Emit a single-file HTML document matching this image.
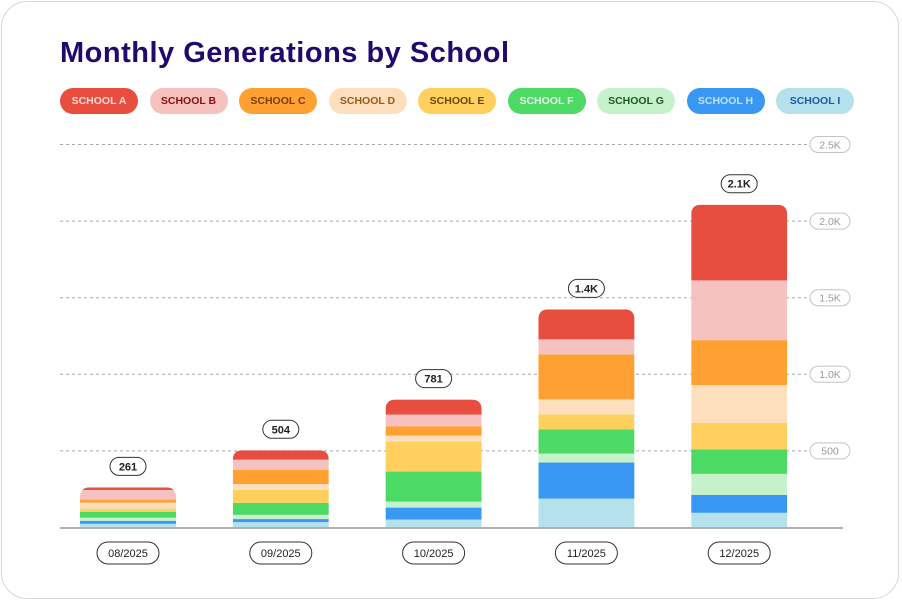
<!DOCTYPE html>
<html><head><meta charset="utf-8"><style>
html,body{margin:0;padding:0;background:#fff;}
body{width:902px;height:600px;position:relative;overflow:hidden;font-family:"Liberation Sans",sans-serif;}
.card{position:absolute;left:1px;top:1px;width:898px;height:598px;border:1.5px solid #d6d6d6;border-radius:26px;box-sizing:border-box;}
h1{position:absolute;left:60px;top:37px;margin:0;font-size:29px;font-weight:bold;color:#1f0a6e;letter-spacing:0.5px;}
.chip{position:absolute;top:88px;height:26px;border-radius:13px;font-size:10.5px;font-weight:bold;line-height:26px;text-align:center;width:78px;}
</style></head><body>
<div class="card"></div>
<h1>Monthly Generations by School</h1>
<div id="legend"></div>
<svg id="chart" width="902" height="600" style="position:absolute;left:0;top:0"></svg>
<script>
const schools=['SCHOOL A','SCHOOL B','SCHOOL C','SCHOOL D','SCHOOL E','SCHOOL F','SCHOOL G','SCHOOL H','SCHOOL I'];
const months=['08/2025','09/2025','10/2025','11/2025','12/2025'];
const totalLabels=['261','504','781','1.4K','2.1K'];
const schoolA=[17,61,98,196,494];
const schoolB=[63,67,76,98,390];
const schoolC=[20,92,61,294,294];
const schoolD=[39,39,39,98,246];
const schoolE=[20,84,196,98,174];
const schoolF=[39,78,196,157,159];
const schoolG=[20,28,39,59,137];
const schoolH=[20,20,78,235,117];
const schoolI=[24,35,52,189,96];
const yTicks=[500,1000,1500,2000,2500];
const yTickLabels=['500','1.0K','1.5K','2.0K','2.5K'];

const series=[schoolA,schoolB,schoolC,schoolD,schoolE,schoolF,schoolG,schoolH,schoolI];
const fills=['#E84E40','#F5C2BF','#FFA033','#FEDFBD','#FFD05E','#4CD964','#C5F2CB','#3898F3','#B4E1EC'];
const texts=['#fbd9d6','#8a1010','#7a3e00','#9a5a1c','#6b4a00','#e8fbe9','#1d5a22','#bfe0ff','#1f5aa8'];
const NS='http://www.w3.org/2000/svg';
const svg=document.getElementById('chart');
const base=527.5, pxPer=0.1532;
const y=v=>base-v*pxPer;
const x0=128, step=152.8, bw=96;
const xc=i=>x0+i*step;
function mk(t,a){const e=document.createElementNS(NS,t);for(const k in a)e.setAttribute(k,a[k]);svg.appendChild(e);return e;}

const lg=document.getElementById('legend');
schools.forEach((s,i)=>{const d=document.createElement('div');d.className='chip';
d.style.left=(60+i*89.5)+'px';d.style.background=fills[i];d.style.color=texts[i];d.textContent=s;


lg.appendChild(d);});

yTicks.forEach((t,i)=>{const yy=y(t);
const l=mk('line',{x1:60,x2:810,y1:yy,y2:yy,stroke:'#a8a8a8','stroke-width':1,'stroke-dasharray':'3,3'});


const r=mk('rect',{x:810,y:yy-8,width:40,height:16,rx:8,fill:'#fff',stroke:'#c4c4c4'});


const tx=mk('text',{x:830,y:yy+3.8,'text-anchor':'middle','font-size':10.5,fill:'#9a9a9a','font-family':'Liberation Sans, sans-serif'});
tx.textContent=yTickLabels[i];


});

months.forEach((m,i)=>{
const defs=mk('defs',{});
const cp=document.createElementNS(NS,'clipPath');cp.setAttribute('id','cp'+i);defs.appendChild(cp);
let tot=0;series.forEach(s=>tot+=s[i]);
const top=y(tot);
const cr=document.createElementNS(NS,'path');
const L=xc(i)-bw/2,R=xc(i)+bw/2,rr=Math.min(10,(base-top)/2);
cr.setAttribute('d',`M${L},${base}V${top+rr}Q${L},${top} ${L+rr},${top}H${R-rr}Q${R},${top} ${R},${top+rr}V${base}Z`);
cp.appendChild(cr);
const g=mk('g',{'clip-path':`url(#cp${i})`});


let acc=0;
for(let k=series.length-1;k>=0;k--){const v=series[k][i];
const r=document.createElementNS(NS,'rect');
r.setAttribute('x',L);r.setAttribute('width',bw);r.setAttribute('y',y(acc+v));r.setAttribute('height',v*pxPer);r.setAttribute('fill',fills[k]);


g.appendChild(r);acc+=v;}
const ly=top-21;
const pr=mk('rect',{x:xc(i)-18,y:ly-9,width:36,height:18,rx:9,fill:'#fff',stroke:'#333','stroke-width':1});


const t=mk('text',{x:xc(i),y:ly+4,'text-anchor':'middle','font-size':11,'font-weight':'bold',fill:'#222','font-family':'Liberation Sans, sans-serif'});
t.textContent=totalLabels[i];


const xp=mk('rect',{x:xc(i)-31,y:542,width:62,height:22,rx:11,fill:'#fff',stroke:'#333','stroke-width':1});


const xt=mk('text',{x:xc(i),y:557,'text-anchor':'middle','font-size':11,fill:'#222','font-family':'Liberation Sans, sans-serif'});
xt.textContent=m;


});
const ax=mk('line',{x1:60,x2:843,y1:base+0.5,y2:base+0.5,stroke:'#b0b0b0','stroke-width':2});


</script>
</body></html>
